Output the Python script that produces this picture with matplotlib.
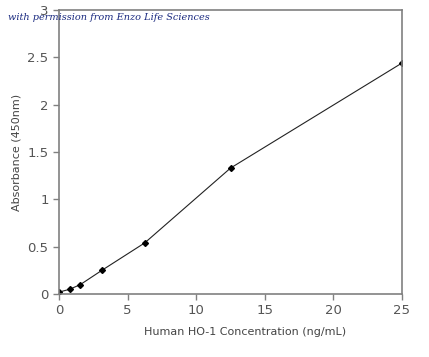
import matplotlib
matplotlib.use("Agg")
import matplotlib.pyplot as plt

conc = [0, 0.78, 1.56, 3.125, 6.25, 12.5, 25]
absorbance = [0.02, 0.05, 0.10, 0.25, 0.54, 1.33, 2.44]
xticks = [0, 5, 10, 15, 20, 25]
yticks = [0, 0.5, 1, 1.5, 2, 2.5, 3]
yticklabels = ["0", "0.5", "1", "1.5", "2", "2.5", "3"]

fig = plt.figure(figsize=(4.29, 3.57), dpi=100)
ax = fig.add_axes([59/429, 1-294/357, (402-59)/429, (294-10)/357])
ax.plot(conc, absorbance, color="#222222", lw=0.8, marker="D", ms=3, mfc="black", mec="black")
ax.set_xlim(0, 25)
ax.set_ylim(0, 3)
ax.set_xticks(xticks)
ax.set_yticks(yticks)
ax.set_yticklabels(yticklabels)
for s in ax.spines.values():
    s.set_color("#808080")
    s.set_linewidth(1.2)
ax.tick_params(colors="#808080", labelcolor="#555555", labelsize=9.5, length=4, width=1)
ax.set_xlabel("Human HO-1 Concentration (ng/mL)", color="#444444", fontsize=8)
ax.xaxis.set_label_coords((245-59)/(402-59), -0.115)
ax.set_ylabel("Absorbance (450nm)", color="#444444", fontsize=8)
fig.text(8/429, 1-17/357, "with permission from Enzo Life Sciences", color="#1a2a80",
         fontsize=7, family="DejaVu Serif", style="italic", va="center")
fig.savefig("out.png", dpi=100)
